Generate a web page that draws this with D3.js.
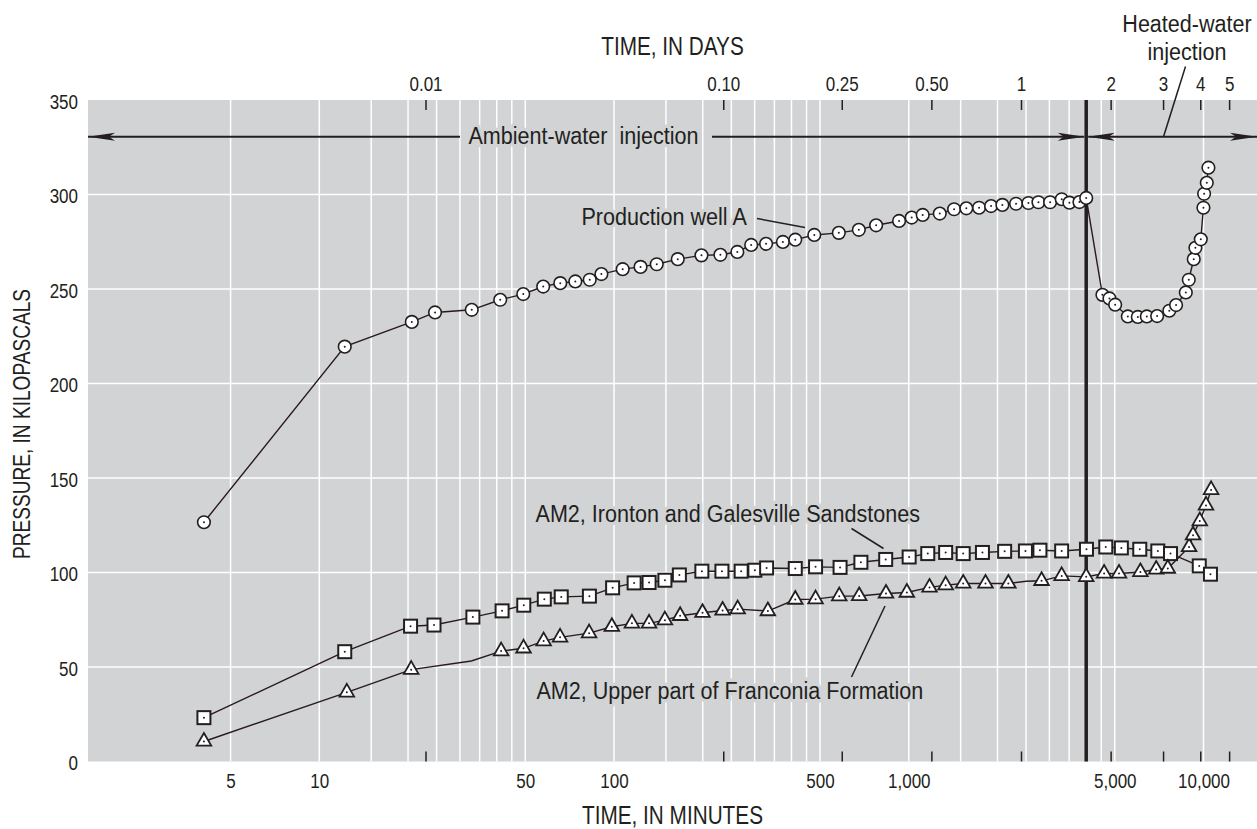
<!DOCTYPE html>
<html>
<head>
<meta charset="utf-8">
<script src="https://cdn.jsdelivr.net/npm/d3@7"></script>
<style>
body { margin: 0; background: #fff; }
svg text { font-family: "Liberation Sans", Arial, sans-serif; fill: #231f20; }
</style>
</head>
<body>
<svg id="chart" width="1257" height="829"></svg>
<script>
// --- data: [time in minutes, pressure in kPa] ---
var prodWellA = [
    [4.06,126.6],[12.2,219.5],[20.6,232.6],[24.7,237.6],[32.9,239.0],[41.1,244.3],[49.2,247.3],
    [57.5,251.3],[65.7,253.1],[73.9,254.0],[82.7,254.9],[90.6,257.9],[107,260.5],[123,261.7],
    [139.6,263.1],[164.5,265.8],[198,267.8],[229.5,268.1],[262,269.6],[292,273.3],[328,273.9],
    [374,274.9],[412,276.1],[478,278.6],[579,279.7],[677,281.3],[775,283.7],[927,286.0],
    [1023,287.8],[1115,289.2],[1274,289.9],[1425,292.2],[1568,292.7],[1732,293.0],[1902,293.9],
    [2078,294.5],[2312,295.1],[2547,295.5],[2754,295.9],[3017,295.9],[3304,297.5],[3508,295.7],
    [3793,296.0],[4000,298.2],[4540,246.9],[4796,245.0],[5015,241.7],[5537,235.5],[5985,235.2],
    [6422,235.5],[6961,235.7],[7657,238.5],[8072,241.5],[8709,248.2],[8914,254.9],[9266,265.8],
    [9387,271.8],[9791,276.3],[9994,293.0],[10047,300.4],[10260,306.2],[10392,314.2]
];
var am2Ironton = [
    [4.06,23.2],[12.2,58.1],[20.4,71.6],[24.5,72.2],[33.2,76.4],[41.7,79.7],[49.4,82.7],
    [58,85.9],[66.2,87.1],[82.5,87.5],[98.9,91.9],[117,94.5],[131.5,94.7],[148.8,95.9],
    [166.6,98.7],[198.6,100.7],[232.3,100.7],[270,100.7],[300.5,101.2],[329.4,102.4],[412,102.1],
    [482.8,103.0],[584.7,102.7],[688,105.4],[835,106.9],[1003,108.2],[1160,110.0],[1334,110.6],
    [1530,110.0],[1778,110.6],[2115,111.2],[2488,111.4],[2786,111.8],[3302,111.4],[4008,112.3],
    [4660,113.5],[5264,113.0],[6078,112.3],[6998,111.4],[7728,110.0],[9675,103.5],[10558,99.1]
];
// third value: 1 = plotted symbol, 0 = bend of the line only
var am2Franconia = [
    [4.06,10.6,1],[12.4,36.6,1],[20.5,48.6,1],[32.8,53.2,0],[41.4,58.4,1],[49.3,59.9,1],
    [57.7,63.7,1],[65.6,65.7,1],[82.3,67.9,1],[98.3,71.3,1],[115,73.1,1],[131.5,73.1,1],
    [148.8,74.8,1],[167.6,77.1,1],[199.6,78.7,1],[233.5,79.9,1],[262.7,80.6,1],[332.6,79.6,1],
    [412,85.7,1],[482.8,85.9,1],[581,87.5,1],[679,87.6,1],[837,88.9,1],[985,89.4,1],
    [1176,92.1,1],[1334,93.3,1],[1530,94.2,1],[1821,94.2,1],[2177,94.2,1],[2502,95.4,0],
    [2822,95.6,1],[3302,98.2,1],[3999,97.7,1],[4600,99.5,1],[5168,99.5,1],[6108,100.3,1],
    [6910,101.6,1],[7566,102.1,1],[8935,113.5,1],[9215,119.7,1],[9713,127.2,1],[10197,135.5,1],
    [10612,143.7,1]
];
var minuteTicks = [5, 10, 50, 100, 500, 1000, 5000, 10000];
var minuteGrid = [5,10,15,20,25,30,35,40,45,50,100,150,200,250,300,350,400,450,500,
                  1000,1500,2000,2500,3000,3500,4500,5000,10000];
var dayTicks = [0.01, 0.1, 0.25, 0.5, 1, 2, 3, 4, 5];
var dayLabels = ["0.01", "0.10", "0.25", "0.50", "1", "2", "3", "4", "5"];
var pressureTicks = [0, 50, 100, 150, 200, 250, 300, 350];
var pressureGrid = [50, 100, 150, 200, 250, 300];
var heatedStart = 4000; // minutes

// --- layout ---
var pLeft = 88, pRight = 1257, pTop = 100, pBottom = 761.5;
var ink = "#231f20", panel = "#d1d3d4";
var narrow = 0.83;   // squeeze factor -> condensed face look

var svg = d3.select("#chart");

// scales (minute and day axes as printed)
var x = d3.scaleLog().domain([10, 10000]).range([319.3, 1203.5]);
var xDay = d3.scaleLog().domain([0.01, 1]).range([425.5, 1021]);
var y = d3.scaleLinear().domain([0, 350]).range([pBottom, pTop]);

// condensed text helper
function ctext(tx, ty, str, size, anchor, sx, rot) {
    return svg.append("text")
        .attr("transform", "translate(" + tx + "," + ty + ")" + (rot ? " rotate(" + rot + ")" : "") + " scale(" + sx + ",1)")
        .attr("text-anchor", anchor)
        .style("font-size", size + "px")
        .style("white-space", "pre")
        .text(str);
}

// panel
svg.append("rect")
    .attr("x", pLeft).attr("y", pTop)
    .attr("width", pRight - pLeft).attr("height", pBottom - pTop)
    .attr("fill", panel);

// grid
svg.append("g").selectAll("line").data(minuteGrid).enter().append("line")
    .attr("x1", d => x(d)).attr("x2", d => x(d))
    .attr("y1", pTop).attr("y2", pBottom)
    .attr("stroke", "#fff").attr("stroke-width", 1.5);
svg.append("g").selectAll("line").data(pressureGrid).enter().append("line")
    .attr("x1", pLeft).attr("x2", pRight)
    .attr("y1", d => y(d)).attr("y2", d => y(d))
    .attr("stroke", "#fff").attr("stroke-width", 1.5);

function styleAxis(g, size) {
    g.select(".domain").remove();
    g.selectAll("text").attr("font-family", null).style("font-size", size + "px")
        .attr("fill", ink).attr("transform", "scale(" + narrow + ",1)");
    g.selectAll("line").attr("stroke", ink).attr("stroke-width", 1.5);
}

// day axis on top (ticks inside)
svg.append("g")
    .attr("transform", "translate(0," + pTop + ")")
    .call(d3.axisTop(xDay).tickValues(dayTicks)
        .tickFormat((d, i) => dayLabels[i])
        .tickSizeInner(-10).tickSizeOuter(0).tickPadding(9))
    .call(g => styleAxis(g, 20.5));
// day ticks at bottom (inside)
svg.append("g")
    .attr("transform", "translate(0," + pBottom + ")")
    .call(d3.axisBottom(xDay).tickValues(dayTicks).tickFormat("")
        .tickSizeInner(-10).tickSizeOuter(0))
    .call(g => styleAxis(g, 20.5));
// minute axis
svg.append("g")
    .attr("transform", "translate(0," + pBottom + ")")
    .call(d3.axisBottom(x).tickValues(minuteTicks).tickFormat(d3.format(","))
        .tickSize(0).tickPadding(12))
    .call(g => styleAxis(g, 20.5));
// pressure axis
svg.append("g")
    .attr("transform", "translate(" + pLeft + ",0)")
    .call(d3.axisLeft(y).tickValues(pressureTicks).tickSize(0).tickPadding(10))
    .call(g => styleAxis(g, 20.5))
    .selectAll("text").attr("x", -10 / narrow).attr("dy", "0.4em");

// axis titles
ctext((pLeft + pRight) / 2, 55, "TIME, IN DAYS", 25, "middle", narrow);
ctext((pLeft + pRight) / 2, 823.5, "TIME, IN MINUTES", 25, "middle", narrow);
ctext(29.5, 424, "PRESSURE, IN KILOPASCALS", 23, "middle", narrow, -90);

// start of heated-water injection
svg.append("line")
    .attr("x1", x(heatedStart)).attr("x2", x(heatedStart))
    .attr("y1", pTop).attr("y2", pBottom)
    .attr("stroke", ink).attr("stroke-width", 3.5);

// injection arrows
var arrowY = 136.7;
function arrowHead(tipX, dir) {
    var L = 27, w = 4, n = 21;
    svg.append("path")
        .attr("d", "M" + tipX + "," + arrowY +
            "L" + (tipX - dir * L) + "," + (arrowY - w) +
            "L" + (tipX - dir * n) + "," + arrowY +
            "L" + (tipX - dir * L) + "," + (arrowY + w) + "Z")
        .attr("fill", ink);
}
var hx = x(heatedStart);
[[pLeft, 460], [712, hx - 2], [hx + 2, pRight]].forEach(function(s) {
    svg.append("line").attr("x1", s[0]).attr("x2", s[1])
        .attr("y1", arrowY).attr("y2", arrowY)
        .attr("stroke", ink).attr("stroke-width", 2);
});
arrowHead(pLeft, -1);
arrowHead(hx - 1.5, 1);
arrowHead(hx + 1.5, -1);
arrowHead(pRight, 1);

// labels with panel-coloured halo
function label(tx, ty, anchor, str) {
    ctext(tx, ty, str, 24.5, anchor, 0.88)
        .attr("stroke", panel).attr("stroke-width", 7)
        .attr("paint-order", "stroke").attr("stroke-linejoin", "round");
}
function leader(x1, y1, x2, y2) {
    svg.append("line").attr("x1", x1).attr("y1", y1).attr("x2", x2).attr("y2", y2)
        .attr("stroke", ink).attr("stroke-width", 1.5);
}
label(468.5, 143.5, "start", "Ambient-water  injection");
label(581.5, 225, "start", "Production well A");
leader(757, 218.5, 805, 227.5);
label(920, 521.5, "end", "AM2, Ironton and Galesville Sandstones");
leader(851.5, 528.5, 883.5, 548.5);
label(536.5, 699, "start", "AM2, Upper part of Franconia Formation");
leader(885, 606, 851.5, 677);

// heated-water label (outside panel)
ctext(1187, 31.5, "Heated-water", 24.5, "middle", 0.88);
ctext(1187, 59.5, "injection", 24.5, "middle", 0.88);
leader(1163.5, 136.7, 1185.5, 66.5);

// series
var line = d3.line().x(d => x(d[0])).y(d => y(d[1]));
function drawLine(data) {
    svg.append("path").datum(data).attr("d", line)
        .attr("fill", "none").attr("stroke", "#2b1a1c").attr("stroke-width", 1.4);
}
function dots(g) {
    g.append("circle").attr("r", 1).attr("fill", ink);
}

// Ironton and Galesville (squares)
drawLine(am2Ironton);
svg.append("g").selectAll("g").data(am2Ironton).enter().append("g")
    .attr("transform", d => "translate(" + x(d[0]) + "," + y(d[1]) + ")")
    .call(function(g) {
        g.append("rect").attr("x", -6.5).attr("y", -6.5).attr("width", 13).attr("height", 13)
            .attr("fill", "#fff").attr("stroke", ink).attr("stroke-width", 2);
        dots(g);
    });

// Franconia (triangles)
drawLine(am2Franconia);
svg.append("g").selectAll("g").data(am2Franconia.filter(d => d[2])).enter().append("g")
    .attr("transform", d => "translate(" + x(d[0]) + "," + y(d[1]) + ")")
    .call(function(g) {
        g.append("path").attr("d", "M0,-8.5L7.3,4.2L-7.3,4.2Z")
            .attr("fill", "#fff").attr("stroke", ink).attr("stroke-width", 1.8)
            .attr("stroke-linejoin", "miter");
        dots(g);
    });

// Production well A (circles)
drawLine(prodWellA);
svg.append("g").selectAll("g").data(prodWellA).enter().append("g")
    .attr("transform", d => "translate(" + x(d[0]) + "," + y(d[1]) + ")")
    .call(function(g) {
        g.append("circle").attr("r", 6.3)
            .attr("fill", "#fff").attr("stroke", ink).attr("stroke-width", 1.6);
        dots(g);
    });
</script>
</body>
</html>
